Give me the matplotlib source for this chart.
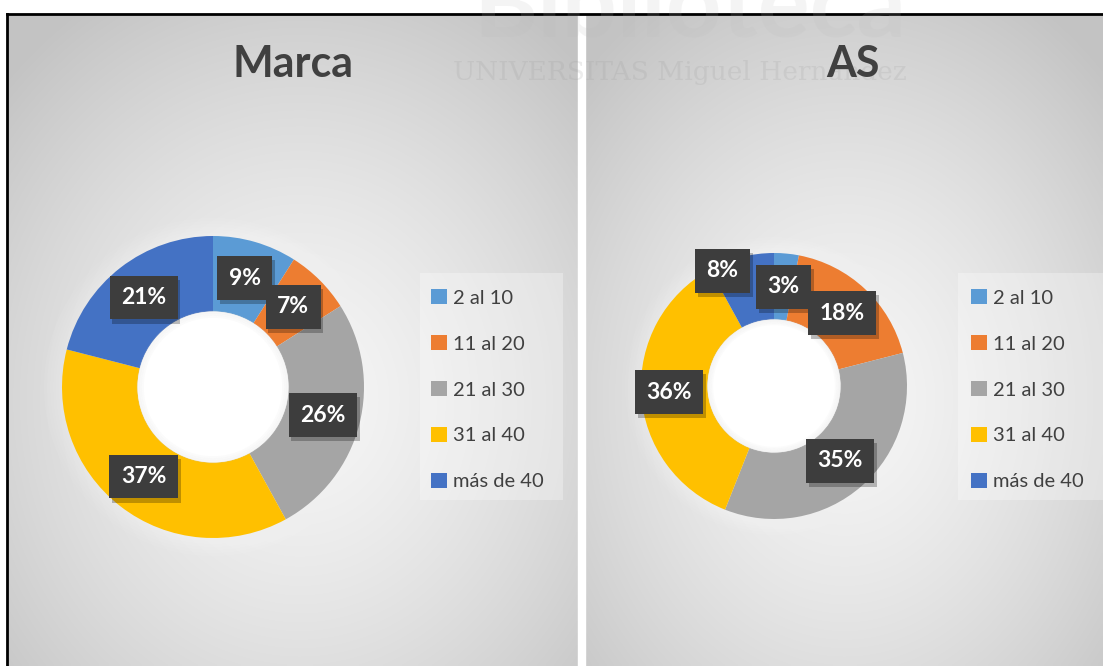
import numpy as np
import matplotlib
matplotlib.use("Agg")
import matplotlib.pyplot as plt
import matplotlib.patheffects as pe
from matplotlib.patches import Rectangle, Circle

plt.rcParams['font.family'] = ['Lato', 'DejaVu Sans']

# data
categories = ['2 al 10', '11 al 20', '21 al 30', '31 al 40', 'más de 40']
marca_vals = [9, 7, 26, 37, 21]
as_vals = [3, 18, 35, 36, 8]
colors = ['#5B9BD5', '#ED7D31', '#A5A5A5', '#FFC000', '#4472C4']

W, H = 1103, 666
fig = plt.figure(figsize=(W / 100, H / 100), dpi=100)
fig.patch.set_facecolor('white')

# background in pixel coordinates
bg = fig.add_axes([0, 0, 1, 1])
bg.set_xlim(0, W)
bg.set_ylim(H, 0)
bg.axis('off')


def panel(x0, x1, y0, y1, cx, cy):
    xs = np.linspace(x0, x1, 200)
    ys = np.linspace(y0, y1, 200)
    X, Y = np.meshgrid(xs, ys)
    t = np.sqrt(((X - cx) / (x1 - x0)) ** 2 + ((Y - cy) / (y1 - y0)) ** 2) / 0.72
    t = np.clip(t, 0, 1)
    g = 0.965 - 0.2 * t ** 1.4
    bg.imshow(np.dstack([g, g, g]), extent=(x0, x1, y1, y0), aspect='auto',
              interpolation='bilinear', zorder=0)


panel(8, 578, 14, H, 300, 400)
panel(585, W, 14, H, 845, 400)
bg.add_patch(Rectangle((578, 14), 7, H, color='white', zorder=1))
bg.plot([7, 7], [14, H], color='black', lw=2, zorder=2)
bg.plot([7, W], [14, 14], color='black', lw=2, zorder=2)

# faint watermark
bg.text(690, 8, 'Biblioteca', fontsize=70, color='#bbbbbb', alpha=0.15,
        ha='center', va='center', fontweight='bold', zorder=3)
bg.text(680, 72, 'UNIVERSITAS Miguel Hernández', fontsize=19, color='#999999',
        alpha=0.18, ha='center', va='center', family='DejaVu Serif', zorder=3)

# titles
bg.text(293, 64, 'Marca', fontsize=31, fontweight='bold', color='#404040',
        ha='center', va='center', zorder=4)
bg.text(853, 64, 'AS', fontsize=31, fontweight='bold', color='#404040',
        ha='center', va='center', zorder=4)

# legend boxes
for lx, lw in [(420, 143), (958, 145)]:
    bg.add_patch(Rectangle((lx, 273), lw, 227, color='white', alpha=0.3, lw=0, zorder=2))


def donut(cx, cy, r, vals, nudges, legend_x):
    m = 1.15
    ax = fig.add_axes([(cx - r * m) / W, 1 - (cy + r * m) / H,
                       2 * m * r / W, 2 * m * r / H])
    # soft glow around ring
    for k in range(6):
        ax.add_patch(Circle((0, 0), 1.0 + 0.02 * (k + 1), color='white', alpha=0.06, lw=0, zorder=0))
    wedges, _ = ax.pie(vals, colors=colors, startangle=90, counterclock=False,
                       radius=1.0, wedgeprops=dict(width=0.5, linewidth=0))
    ax.set_xlim(-m, m)
    ax.set_ylim(-m, m)
    ax.axis('off')
    for w in wedges:
        w.set_zorder(2)
    ax.add_patch(Circle((0, 0), 0.5, color='white', lw=0, zorder=3))
    for k in range(4):
        ax.add_patch(Circle((0, 0), 0.5 - 0.012 * k, fill=False, ec='#cccccc',
                            lw=1.2, alpha=0.2 - 0.04 * k, zorder=3))
    cum = np.cumsum([0] + list(vals))
    tot = sum(vals)
    for i, v in enumerate(vals):
        a = np.deg2rad(90 - 360 * (cum[i] + v / 2) / tot)
        dx, dy = nudges.get(i, (0, 0))
        x, y = 0.75 * np.cos(a) + dx, 0.75 * np.sin(a) + dy
        t = ax.text(x, y, f'{v}%', fontsize=16.5, fontweight='bold', color='white',
                    ha='center', va='center', zorder=5,
                    bbox=dict(boxstyle='square,pad=0.5', fc='#3d3d3d', ec='none'))
        t.get_bbox_patch().set_path_effects(
            [pe.SimplePatchShadow(offset=(2, -3), shadow_rgbFace='black', alpha=0.25), pe.Normal()])
    ax.legend(wedges, categories, loc='upper left',
              bbox_to_anchor=((legend_x - (cx - r * m)) / (2 * m * r),
                              1 - (281 - (cy - r * m)) / (2 * m * r)),
              frameon=False, fontsize=14.5, labelcolor='#404040',
              handlelength=0.8, handleheight=0.8, handletextpad=0.3,
              labelspacing=1.4, borderaxespad=0)


donut(213, 387, 151, marca_vals, {}, 423)
donut(774, 386, 133, as_vals, {4: (-0.2, 0.14), 3: (-0.04, 0)}, 963)

fig.savefig('out.png', dpi=100)
